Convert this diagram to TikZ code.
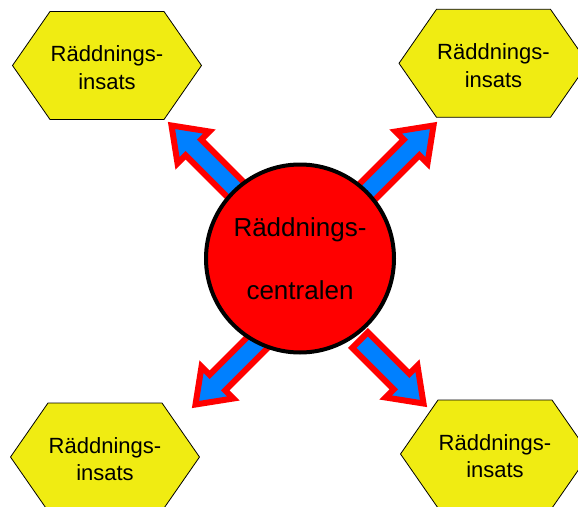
\documentclass[tikz,border=0pt]{standalone}
\usepackage{fontspec}
\setmainfont{Liberation Sans}
\usetikzlibrary{calc}
\definecolor{hexyellow}{RGB}{240,236,18}
\definecolor{arrowblue}{RGB}{0,128,255}
\definecolor{pureRed}{RGB}{255,0,0}
\tikzset{
  hexstyle/.style={fill=hexyellow,draw=black,line width=0.8pt,line join=miter},
  hextext/.style={font=\fontsize{22}{27.7}\selectfont,align=center,inner sep=0pt},
  centerstyle/.style={circle,fill=pureRed,draw=black,line width=4pt,minimum size=188pt,inner sep=0pt,
    font=\fontsize{26}{63.3}\selectfont,align=center},
  arrowstyle/.style={fill=arrowblue,draw=pureRed,line width=6pt,line join=miter,miter limit=4}
}
\newcommand\hexbox[3]{%
  \coordinate (#1c) at (#2,#3);
  \draw[hexstyle] ([shift={(-94.5,0)}]#1c) -- ([shift={(-57,-54)}]#1c) -- ([shift={(57,-54)}]#1c)
     -- ([shift={(94.5,0)}]#1c) -- ([shift={(57,54)}]#1c) -- ([shift={(-57,54)}]#1c) -- cycle;
  \node[hextext] (#1) at ([shift={(0,2)}]#1c) {Räddnings-\\insats};
}
\newcommand\blkarrow[3]{%
  \coordinate (#3b) at ($(#2)!31pt!(#1)$);
  \draw[arrowstyle] ($(#1)!11pt!90:(#2)$) -- ($(#3b)!11pt!90:(#2)$) -- ($(#3b)!22.5pt!90:(#2)$)
    -- (#2) -- ($(#3b)!22.5pt!-90:(#2)$) -- ($(#3b)!11pt!-90:(#2)$) -- ($(#1)!11pt!-90:(#2)$) -- cycle;
}
\begin{document}
\begin{tikzpicture}[x=1pt,y=-1pt]
\useasboundingbox (0,0) rectangle (578,506);
% arrow end points
\coordinate (t1) at (265,219);   \coordinate (p1) at (171.5,125.5);
\coordinate (t2) at (335,224);   \coordinate (p2) at (433.5,125.5);
\coordinate (t3) at (275,325);   \coordinate (p3) at (195.5,404.5);
\coordinate (t4) at (360,340);   \coordinate (p4) at (423.5,403.5);
\blkarrow{t1}{p1}{a1}
\blkarrow{t2}{p2}{a2}
\blkarrow{t3}{p3}{a3}
\blkarrow{t4}{p4}{a4}
% central circle
\node[centerstyle] (c) at (300,258.5) {Räddnings-\\centralen};
% hexagons
\hexbox{h1}{107}{65.5}
\hexbox{h2}{493.5}{63.3}
\hexbox{h3}{105}{457}
\hexbox{h4}{495}{454}
\end{tikzpicture}
\end{document}
